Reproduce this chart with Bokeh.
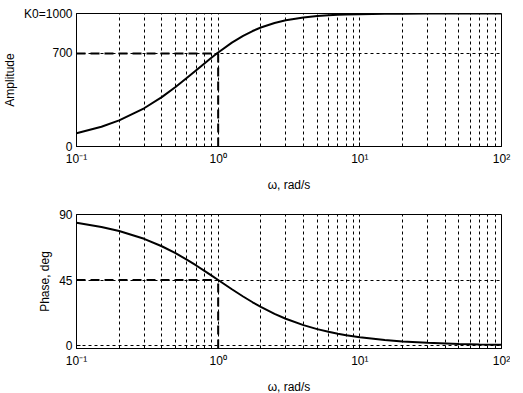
from bokeh.plotting import figure
from bokeh.layouts import column
from bokeh.models import FixedTicker, Range1d
from bokeh.embed import file_html
from bokeh.resources import INLINE

# ---- data ----
omega = [0.1, 0.15, 0.2, 0.3, 0.4, 0.5, 0.6, 0.7, 0.8, 0.9, 1.0, 1.25, 1.5, 1.75,
         2.0, 2.5, 3.0, 4.0, 5.0, 6.0, 7.0, 8.0, 10.0, 15.0, 20.0, 30.0, 50.0, 70.0, 100.0]
amplitude = [99.5, 148.3, 196.1, 287.4, 371.4, 447.2, 514.5, 573.4, 624.7, 668.9, 707.1,
             780.9, 832.1, 868.2, 894.4, 928.5, 948.7, 970.1, 980.6, 986.4, 990.0, 992.3,
             995.0, 997.8, 998.8, 999.4, 999.8, 999.9, 1000.0]
phase = [84.29, 81.47, 78.69, 73.30, 68.20, 63.43, 59.04, 55.01, 51.34, 48.01, 45.0,
         38.66, 33.69, 29.74, 26.57, 21.80, 18.43, 14.04, 11.31, 9.46, 8.13, 7.13,
         5.71, 3.81, 2.86, 1.91, 1.15, 0.82, 0.57]

marker_omega = 1.0
marker_amp = 700
marker_phase = 45

x_major = [0.1, 1, 10, 100]
x_minor = [m * d for d in [0.1, 1, 10] for m in range(2, 10)]
x_labels = ["10\u207b\u00b9", "10\u2070", "10\u00b9", "10\u00b2"]

amp_ticks = [0, 700, 1000]
amp_labels = ["0", "700", "K0=1000"]
phase_ticks = [0, 45, 90]
phase_labels = ["0", "45", "90"]

FONT = "Liberation Sans"


def make_fig(y0, y1, yticks, ylabels, ylabel, top, bottom, fh):
    p = figure(x_axis_type="log", x_range=Range1d(0.1, 100), y_range=Range1d(y0, y1),
               frame_width=425, frame_height=fh, min_border_left=70, min_border_right=15,
               min_border_top=top, min_border_bottom=bottom,
               output_backend="svg", toolbar_location=None)
    p.background_fill_color = "white"
    p.border_fill_color = "white"
    p.outline_line_color = "black"
    p.outline_line_alpha = 1.0

    p.xaxis.ticker = FixedTicker(ticks=x_major, minor_ticks=x_minor)
    p.xaxis.major_label_overrides = dict(zip(x_major, x_labels))
    p.yaxis.ticker = FixedTicker(ticks=yticks)
    p.yaxis.major_label_overrides = dict(zip(yticks, ylabels))

    for ax in (p.xaxis, p.yaxis):
        ax.axis_line_color = "black"
        ax.major_tick_line_color = "black"
        ax.minor_tick_line_color = "black"
        ax.major_tick_in = 4
        ax.major_tick_out = 0
        ax.minor_tick_in = 2
        ax.minor_tick_out = 0
        ax.major_label_text_font = FONT
        ax.major_label_text_font_size = "12px"
        ax.major_label_text_color = "black"
        ax.axis_label_text_font = FONT
        ax.axis_label_text_font_size = "12px"
        ax.axis_label_text_font_style = "normal"
        ax.axis_label_text_color = "black"
        ax.major_label_standoff = 4
        ax.axis_label_standoff = 4
    p.xaxis.major_label_standoff = 5
    p.xaxis.axis_label_standoff = 9
    p.yaxis.minor_tick_line_color = None
    p.xaxis.axis_label = "\u03c9, rad/s"
    p.yaxis.axis_label = ylabel

    p.xgrid.grid_line_color = "black"
    p.xgrid.grid_line_dash = "3 3"
    p.xgrid.grid_line_alpha = 1.0
    p.xgrid.minor_grid_line_color = "black"
    p.xgrid.minor_grid_line_dash = "3 3"
    p.ygrid.grid_line_color = "black"
    p.ygrid.grid_line_dash = "3 3"
    p.ygrid.grid_line_alpha = 1.0
    return p


p1 = make_fig(0, 1000, amp_ticks, amp_labels, "Amplitude", 13, 45, 133)
p1.line([omega[0], marker_omega], [marker_amp, marker_amp], line_color="black",
        line_width=2, line_dash="9 5")
p1.line([marker_omega, marker_omega], [0, marker_amp], line_color="black",
        line_width=2, line_dash="9 5")
p1.line(omega, amplitude, line_color="black", line_width=2)

p2 = make_fig(-2, 90, phase_ticks, phase_labels, "Phase, deg", 20, 39, 134)
p2.line([omega[0], marker_omega], [marker_phase, marker_phase], line_color="black",
        line_width=2, line_dash="9 5")
p2.line([marker_omega, marker_omega], [-2, marker_phase], line_color="black",
        line_width=2, line_dash="9 5")
p2.line(omega, phase, line_color="black", line_width=2)

layout = column(p1, p2, spacing=0)
open("out.html", "w").write(file_html(layout, INLINE))
